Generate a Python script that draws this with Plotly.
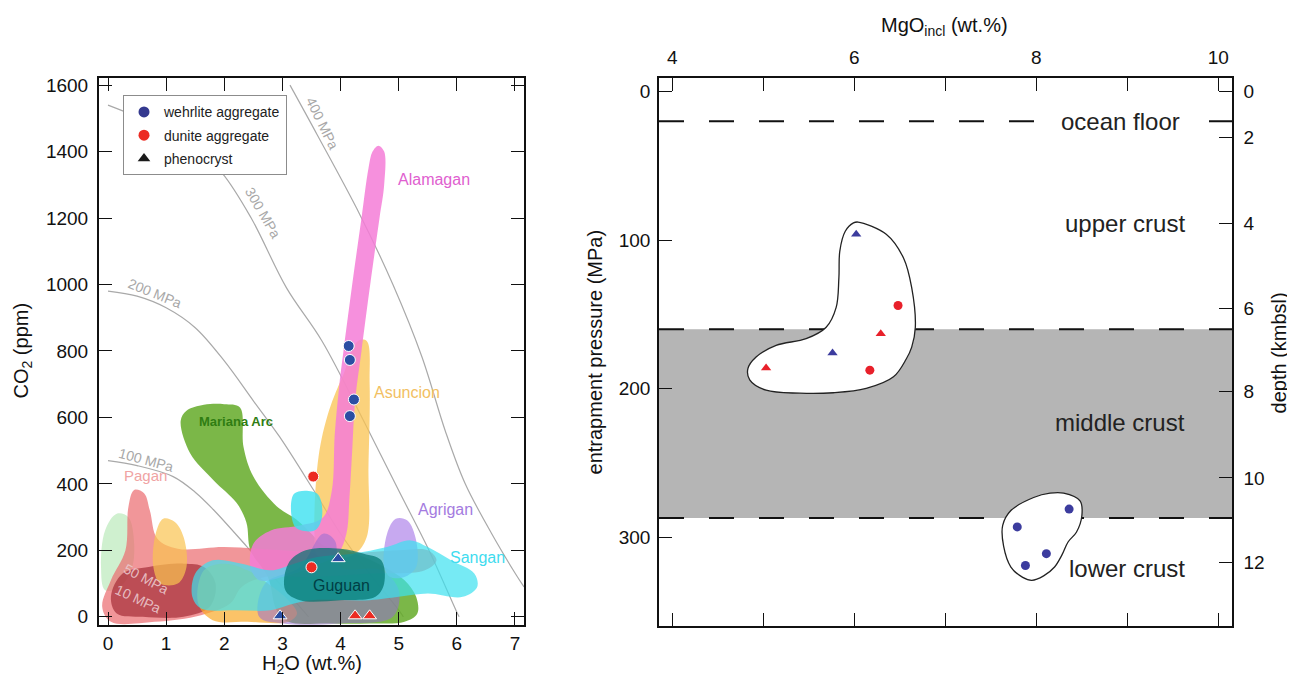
import plotly.graph_objects as go

FONT = "Arial, Liberation Sans, Helvetica, sans-serif"
W, H = 1295, 680
OFF = 8  # page body margin of the html page


def px(x):
    return (x - OFF) / W


def py(y):
    return 1 - (y - OFF) / H


# ---------------- Left panel: H2O vs CO2 ----------------
h2o_ticks = [0, 1, 2, 3, 4, 5, 6, 7]
co2_ticks = [0, 200, 400, 600, 800, 1000, 1200, 1400, 1600]

wehrlite_h2o = [4.14, 4.16, 4.23, 4.16]
wehrlite_co2 = [815, 773, 654, 604]
dunite_h2o = [3.53, 3.50]
dunite_co2 = [422, 149]
pheno_blue_h2o = [3.96, 2.96]
pheno_blue_co2 = [175, 3]
pheno_red_h2o = [4.25, 4.50]
pheno_red_co2 = [3, 3]

# isobars (MPa)
iso400_h2o = [3.13, 3.6, 4.33, 4.9, 5.4, 5.8, 6.14, 6.6, 7.0, 7.155]
iso400_co2 = [1600, 1450, 1211, 1000, 782, 560, 402, 250, 132, 90]
iso300_h2o = [0.0, 0.5, 1.0, 1.5, 1.96, 2.46, 3.07, 3.68, 4.42, 5.0, 5.51, 6.0, 6.04]
iso300_co2 = [1540, 1505, 1465, 1410, 1336, 1201, 990, 830, 582, 380, 204, 14, 0]
iso200_h2o = [0.0, 0.5, 1.0, 1.5, 2.0, 2.5, 2.95, 3.53, 4.0, 4.5, 5.0, 5.08]
iso200_co2 = [980, 965, 930, 870, 770, 650, 542, 383, 250, 130, 20, 0]
iso100_h2o = [0.0, 0.5, 1.12, 1.5, 1.81, 2.38, 2.8, 3.2, 3.45]
iso100_co2 = [470, 455, 422, 375, 323, 213, 130, 50, 0]

# fields (H2O, CO2 outlines)
mariana_h2o = [1.25, 1.35, 1.65, 2.0, 2.27, 2.33, 2.5, 2.9, 3.24, 3.5, 3.7, 4.0, 4.4, 4.75, 5.1, 5.3, 5.32, 5.1, 4.5, 3.8, 3.1, 2.9, 2.75, 2.45, 2.38, 2.21, 1.81, 1.41, 1.25]
mariana_co2 = [590, 620, 638, 640, 630, 512, 422, 333, 293, 250, 215, 205, 180, 150, 110, 60, 10, -15, -20, -20, -15, 20, 120, 200, 284, 343, 412, 493, 590]
lightgreen_h2o = [-0.12, -0.05, 0.15, 0.35, 0.45, 0.40, 0.20, -0.05, -0.12]
lightgreen_co2 = [150, 260, 310, 300, 220, 140, 90, 80, 150]
pagan_h2o = [0.30, 0.35, 0.45, 0.62, 0.72, 0.85, 1.20, 2.00, 3.00, 4.00, 5.00, 5.50, 5.65, 5.45, 4.50, 3.50, 2.70, 2.30, 2.10, 1.60, 0.80, 0.05, -0.10, 0.05, 0.30]
pagan_co2 = [200, 330, 382, 372, 320, 235, 205, 210, 200, 190, 200, 200, 170, 140, 130, 120, 120, 90, 40, 5, -15, -15, 30, 110, 200]
pagandark_h2o = [0.05, 0.25, 0.70, 1.30, 1.65, 1.85, 1.75, 1.30, 0.60, 0.15, 0.05]
pagandark_co2 = [60, 130, 150, 160, 150, 100, 30, 0, 0, 10, 60]
asuncion_h2o = [3.55, 3.62, 3.80, 4.05, 4.30, 4.45, 4.50, 4.48, 4.45, 4.25, 3.90, 3.60, 3.55]
asuncion_co2 = [250, 480, 620, 730, 830, 830, 700, 450, 240, 190, 175, 185, 250]
asuncion2_h2o = [0.78, 0.82, 0.95, 1.15, 1.30, 1.35, 1.20, 0.90, 0.78]
asuncion2_co2 = [150, 250, 295, 285, 240, 150, 100, 100, 150]
asuncion3_h2o = [1.55, 1.65, 2.00, 2.40, 2.75, 3.10, 3.25, 3.10, 2.40, 1.80, 1.55]
asuncion3_co2 = [40, 140, 160, 140, 100, 50, 10, -15, -15, -10, 40]
alamagan_h2o = [4.55, 4.65, 4.75, 4.75, 4.67, 4.51, 4.36, 4.25, 4.20, 4.15, 4.10, 3.95, 3.50, 3.00, 2.60, 2.45, 2.50, 2.80, 3.30, 3.70, 3.85, 3.90, 3.98, 4.05, 4.20, 4.36, 4.48, 4.55]
alamagan_co2 = [1400, 1418, 1400, 1300, 1200, 1000, 800, 650, 500, 350, 250, 190, 150, 120, 110, 150, 220, 260, 275, 300, 380, 550, 700, 800, 1000, 1200, 1350, 1400]
agrigan_h2o = [4.75, 4.80, 4.95, 5.15, 5.30, 5.30, 5.10, 4.85, 4.75]
agrigan_co2 = [150, 250, 295, 290, 230, 150, 120, 120, 150]
agrigan2_h2o = [2.60, 2.70, 3.30, 3.70, 3.90, 4.00, 4.70, 5.00, 4.90, 4.00, 3.00, 2.60]
agrigan2_co2 = [0, 100, 150, 250, 230, 150, 140, 80, 0, -20, -20, 0]
sangan_h2o = [1.45, 1.50, 1.80, 2.30, 2.80, 3.20, 3.60, 4.20, 4.80, 5.20, 5.50, 5.90, 6.30, 6.35, 6.10, 5.50, 5.00, 4.50, 3.50, 3.20, 2.80, 2.20, 1.60, 1.45]
sangan_co2 = [60, 130, 170, 160, 140, 160, 180, 190, 210, 230, 210, 170, 130, 90, 60, 70, 60, 50, 50, 40, 20, 20, 25, 60]
sangan2_h2o = [3.22, 3.20, 3.60, 3.68, 3.55, 3.22]
sangan2_co2 = [270, 370, 370, 300, 260, 270]
guguan_h2o = [3.05, 3.10, 3.40, 4.00, 4.40, 4.70, 4.75, 4.60, 4.00, 3.30, 3.05]
guguan_co2 = [80, 160, 200, 205, 190, 170, 100, 60, 50, 50, 80]

# ---------------- Right panel: MgO vs pressure ----------------
mgo_ticks = [4, 6, 8, 10]
mgo_minor_ticks = [5, 7, 9]
pressure_ticks = [0, 100, 200, 300]
depth_km = [0, 2, 4, 6, 8, 10, 12]
depth_pressure = [0, 31, 89, 146, 202, 260, 317]
ocean_floor_p = 20
middle_top_p = 160
middle_bottom_p = 287

r_wehrlite_mgo = [8.36, 7.79, 8.11, 7.88]
r_wehrlite_p = [281, 293, 311, 319]
r_dunite_mgo = [6.48, 6.17]
r_dunite_p = [144, 187.5]
r_pheno_blue_mgo = [6.02, 5.76]
r_pheno_blue_p = [96, 176]
r_pheno_red_mgo = [6.29, 5.03]
r_pheno_red_p = [163, 186]

blob1_mgo = [6.04, 6.35, 6.54, 6.63, 6.67, 6.63, 6.57, 6.43, 6.13, 5.77, 5.40, 5.03, 4.85, 4.83, 4.92, 5.14, 5.47, 5.69, 5.80, 5.83, 5.84, 5.90, 5.99, 6.04]
blob1_p = [87.8, 96, 112, 132, 158.6, 172, 180, 192, 199.8, 202.7, 203, 201, 194, 186.4, 178.6, 170.8, 166.3, 158.6, 145.2, 125.2, 107.3, 94, 88.4, 87.8]
blob2_mgo = [8.30, 8.48, 8.50, 8.44, 8.35, 8.28, 8.20, 8.08, 7.95, 7.85, 7.72, 7.64, 7.63, 7.72, 7.97, 8.15, 8.30]
blob2_p = [270.3, 275.5, 285.5, 296.6, 303, 312, 320, 326, 329, 327, 320, 306, 292, 282, 273.2, 270.3, 270.3]

BLUE_L = "#2b4ea3"
RED_L = "#ec2b22"
BLUE_R = "#3c3c9e"
RED_R = "#e8202a"

fig = go.Figure()


def iso(xs, ys):
    fig.add_trace(go.Scatter(x=xs, y=ys, mode="lines", line=dict(color="#a9a9a9", width=1.2, shape="spline"),
                             hoverinfo="skip", showlegend=False, xaxis="x", yaxis="y"))


for xs, ys in [(iso400_h2o, iso400_co2), (iso300_h2o, iso300_co2), (iso200_h2o, iso200_co2), (iso100_h2o, iso100_co2)]:
    iso(xs, ys)

fields = [
    (mariana_h2o, mariana_co2, "rgba(100,170,40,0.85)"),
    (lightgreen_h2o, lightgreen_co2, "rgba(175,230,175,0.6)"),
    (pagan_h2o, pagan_co2, "rgba(235,105,110,0.7)"),
    (pagandark_h2o, pagandark_co2, "rgba(165,45,55,0.7)"),
    (asuncion2_h2o, asuncion2_co2, "rgba(250,195,80,0.7)"),
    (asuncion3_h2o, asuncion3_co2, "rgba(250,170,40,0.7)"),
    (asuncion_h2o, asuncion_co2, "rgba(250,195,80,0.75)"),
    (alamagan_h2o, alamagan_co2, "rgba(245,125,215,0.85)"),
    (agrigan2_h2o, agrigan2_co2, "rgba(150,110,210,0.55)"),
    (agrigan_h2o, agrigan_co2, "rgba(180,140,235,0.75)"),
    (sangan_h2o, sangan_co2, "rgba(60,225,240,0.7)"),
    (sangan2_h2o, sangan2_co2, "rgba(60,225,240,0.8)"),
    (guguan_h2o, guguan_co2, "rgba(0,115,110,0.7)"),
]
for xs, ys, col in fields:
    fig.add_trace(go.Scatter(x=xs, y=ys, mode="lines", fill="toself", fillcolor=col,
                             line=dict(color="rgba(0,0,0,0)", width=0, shape="spline", smoothing=1.0),
                             hoverinfo="skip", showlegend=False, xaxis="x", yaxis="y"))

# left-panel samples
fig.add_trace(go.Scatter(x=wehrlite_h2o, y=wehrlite_co2, mode="markers", showlegend=False,
                         marker=dict(symbol="circle", size=11, color=BLUE_L, line=dict(color="white", width=1)),
                         xaxis="x", yaxis="y"))
fig.add_trace(go.Scatter(x=dunite_h2o, y=dunite_co2, mode="markers", showlegend=False,
                         marker=dict(symbol="circle", size=11, color=RED_L, line=dict(color="white", width=1)),
                         xaxis="x", yaxis="y"))
fig.add_trace(go.Scatter(x=pheno_blue_h2o, y=pheno_blue_co2, mode="markers", showlegend=False,
                         marker=dict(symbol="triangle-up", size=12, color=BLUE_L, line=dict(color="white", width=1)),
                         xaxis="x", yaxis="y"))
fig.add_trace(go.Scatter(x=pheno_red_h2o, y=pheno_red_co2, mode="markers", showlegend=False,
                         marker=dict(symbol="triangle-up", size=12, color=RED_L, line=dict(color="white", width=1)),
                         xaxis="x", yaxis="y"))

# legend-only entries
for nm, sym, col, g in [("wehrlite aggregate", "circle", "#34398f", "a"),
                        ("dunite aggregate", "circle", RED_L, "b"),
                        ("phenocryst", "triangle-up", "#1a1a1a", "c")]:
    fig.add_trace(go.Scatter(x=[None], y=[None], mode="markers", name=nm, legendgroup=g,
                             marker=dict(symbol=sym, size=11, color=col), xaxis="x", yaxis="y"))

# right panel blobs
for xs, ys in [(blob1_mgo, blob1_p), (blob2_mgo, blob2_p)]:
    fig.add_trace(go.Scatter(x=xs, y=ys, mode="lines", fill="toself", fillcolor="white",
                             line=dict(color="#222", width=1.3, shape="spline", smoothing=1.0),
                             hoverinfo="skip", showlegend=False, xaxis="x2", yaxis="y2"))

fig.add_trace(go.Scatter(x=r_wehrlite_mgo, y=r_wehrlite_p, mode="markers", showlegend=False,
                         marker=dict(symbol="circle", size=9, color=BLUE_R), xaxis="x2", yaxis="y2"))
fig.add_trace(go.Scatter(x=r_dunite_mgo, y=r_dunite_p, mode="markers", showlegend=False,
                         marker=dict(symbol="circle", size=9, color=RED_R), xaxis="x2", yaxis="y2"))
fig.add_trace(go.Scatter(x=r_pheno_blue_mgo, y=r_pheno_blue_p, mode="markers", showlegend=False,
                         marker=dict(symbol="triangle-up", size=9, color=BLUE_R), xaxis="x2", yaxis="y2"))
fig.add_trace(go.Scatter(x=r_pheno_red_mgo, y=r_pheno_red_p, mode="markers", showlegend=False,
                         marker=dict(symbol="triangle-up", size=9, color=RED_R), xaxis="x2", yaxis="y2"))
# dummy trace to activate y3
fig.add_trace(go.Scatter(x=[None], y=[None], showlegend=False, xaxis="x2", yaxis="y3"))

shapes = [
    dict(type="rect", xref="x2 domain", yref="y2", x0=0, x1=1, y0=middle_top_p, y1=middle_bottom_p,
         fillcolor="#b5b5b5", line=dict(width=0), layer="below"),
]
for p in [ocean_floor_p, middle_top_p, middle_bottom_p]:
    shapes.append(dict(type="line", xref="x2 domain", yref="y2", x0=0, x1=1, y0=p, y1=p,
                       line=dict(color="#111", width=2, dash="25px,25px"), layer="below"))

tick_font = dict(family=FONT, size=19, color="#111")
ax_common = dict(showgrid=False, zeroline=False, showline=True, linecolor="#111", ticks="inside",
                 tickcolor="#111", tickfont=tick_font)

annotations = []


def ann(text, x, y, xref, yref, size, color, angle=0, xanchor="center", yanchor="middle", bold=False, bg=None):
    d = dict(text=("<b>%s</b>" % text) if bold else text, x=x, y=y, xref=xref, yref=yref, showarrow=False,
             font=dict(family=FONT, size=size, color=color), textangle=angle, xanchor=xanchor, yanchor=yanchor)
    if bg:
        d.update(bgcolor=bg, borderpad=6)
    annotations.append(d)


# axis titles
ann("CO<sub>2</sub> (ppm)", px(22), py(350), "paper", "paper", 20, "#111", angle=-90)
ann("H<sub>2</sub>O (wt.%)", px(311.5), py(666), "paper", "paper", 20, "#111")
ann("MgO<sub>incl</sub> (wt.%)", px(945), py(24), "paper", "paper", 20, "#111")
ann("entrapment pressure (MPa)", px(595), py(352), "paper", "paper", 20, "#111", angle=-90)
ann("depth (kmbsl)", px(1279), py(353), "paper", "paper", 20, "#111", angle=-90)

# left panel labels
ann("Alamagan", 5.6, 1316, "x", "y", 16, "#e060cf")
ann("Asuncion", 5.14, 675, "x", "y", 16, "#f2c062")
ann("Mariana Arc", 2.2, 588, "x", "y", 13, "#2f7d12", bold=True)
ann("Agrigan", 5.8, 323, "x", "y", 16, "#a47be0")
ann("Sangan", 6.35, 178, "x", "y", 16, "#3fdcef")
ann("Guguan", 4.02, 94, "x", "y", 16, "#003f45")
ann("Pagan", 0.65, 425, "x", "y", 15, "#f0a3a3")
ann("400 MPa", 3.68, 1485, "x", "y", 14, "#a8a8a8", angle=64)
ann("300 MPa", 2.67, 1216, "x", "y", 14, "#a8a8a8", angle=60)
ann("200 MPa", 0.8, 975, "x", "y", 14, "#a8a8a8", angle=22)
ann("100 MPa", 0.66, 472, "x", "y", 14, "#a8a8a8", angle=15)
ann("50 MPa", 0.66, 114, "x", "y", 14, "rgba(235,200,205,0.9)", angle=28)
ann("10 MPa", 0.52, 54, "x", "y", 14, "rgba(235,200,205,0.9)", angle=25)

# right panel labels
ann("ocean floor", 9.66, ocean_floor_p, "x2", "y2", 24, "#222", xanchor="right", bg="white")
ann("upper crust", 9.66, 89, "x2", "y2", 24, "#222", xanchor="right")
ann("middle crust", 9.66, 223, "x2", "y2", 24, "#222", xanchor="right")
ann("lower crust", 9.66, 321, "x2", "y2", 24, "#222", xanchor="right")

fig.update_layout(
    width=W, height=H, autosize=False,
    margin=dict(l=0, r=0, t=0, b=0),
    paper_bgcolor="white", plot_bgcolor="rgba(0,0,0,0)",
    font=dict(family=FONT, color="#111"),
    showlegend=True,
    legend=dict(x=px(123), y=py(93), xanchor="left", yanchor="top", bgcolor="white",
                bordercolor="#8c8c8c", borderwidth=1, font=dict(family=FONT, size=14, color="#222"),
                tracegroupgap=2, itemclick=False),
    xaxis=dict(domain=[px(99), px(524)], range=[-0.155, 7.155], tickvals=h2o_ticks, anchor="y",
               mirror="ticks", ticklen=13, linewidth=2, ticklabelstandoff=0, **ax_common),
    yaxis=dict(domain=[py(627), py(75)], range=[-26, 1623], tickvals=co2_ticks, anchor="x",
               mirror="ticks", ticklen=13, linewidth=2, ticklabelstandoff=5, **ax_common),
    xaxis2=dict(domain=[px(659), px(1232)], range=[3.853, 10.15], tickvals=mgo_ticks,
                minor=dict(tickvals=mgo_minor_ticks, ticks="inside", ticklen=14, tickcolor="#111"),
                side="top", anchor="y2", mirror="ticks", ticklen=14, linewidth=1.5, ticklabelstandoff=4, **ax_common),
    yaxis2=dict(domain=[py(628), py(75)], range=[360, -9.5], tickvals=pressure_ticks, anchor="x2",
                ticklen=13, linewidth=1.5, ticklabelstandoff=3, **ax_common),
    yaxis3=dict(overlaying="y2", side="right", anchor="x2", range=[360, -9.5], tickvals=depth_pressure,
                ticktext=[str(d) for d in depth_km], ticklen=13, linewidth=1.5, ticklabelstandoff=6, **ax_common),
    shapes=shapes,
    annotations=annotations,
)

fig.write_html("out.html")
